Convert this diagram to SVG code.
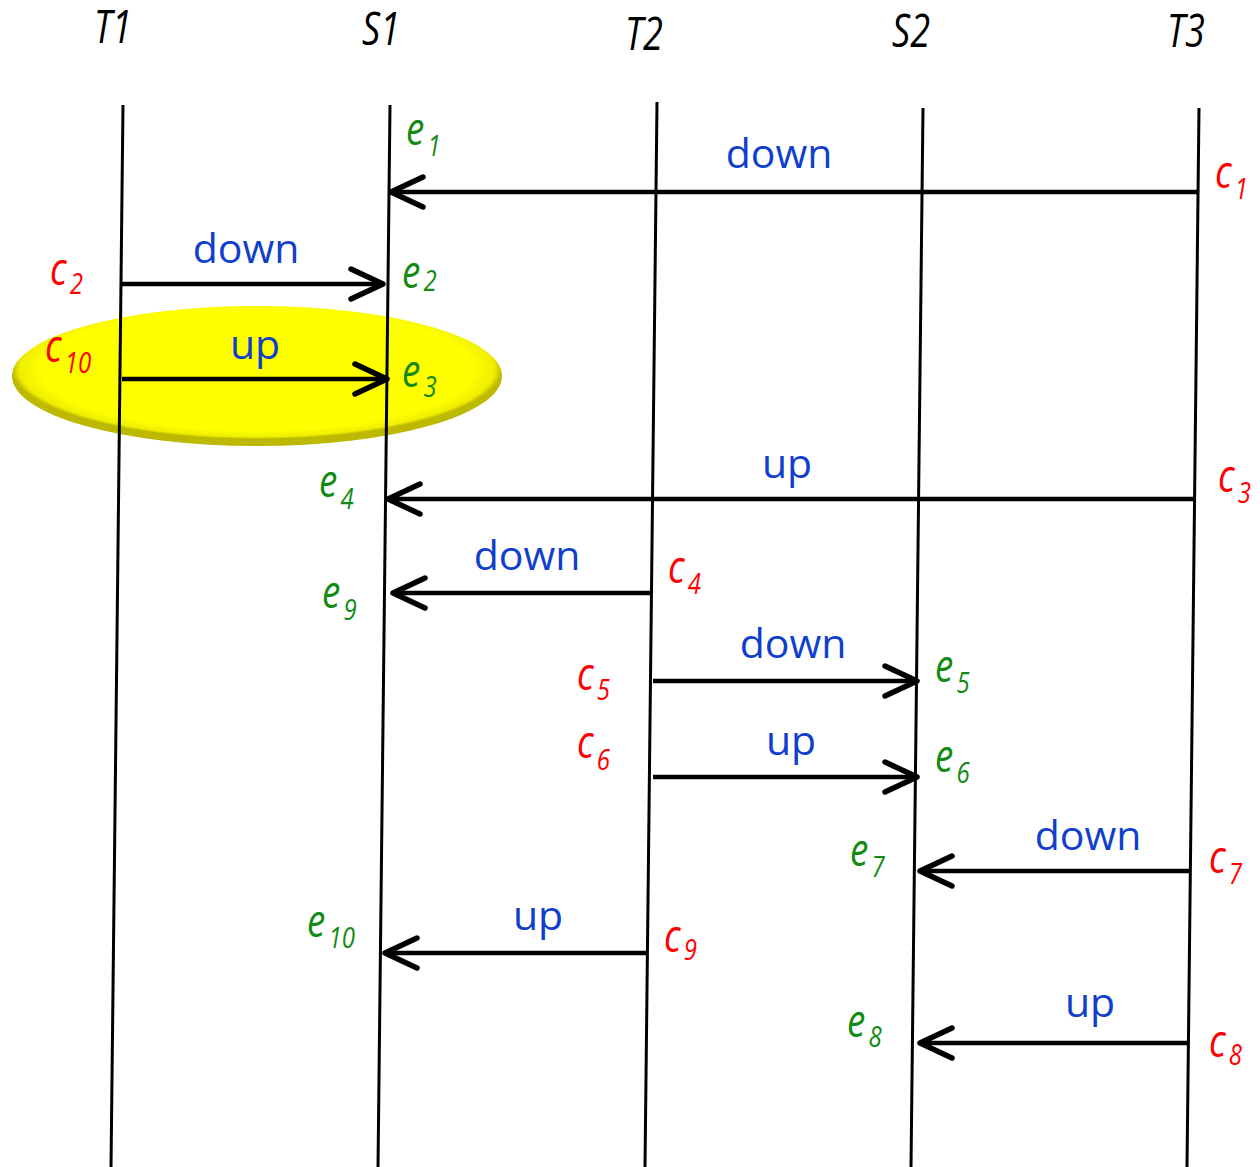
<svg xmlns="http://www.w3.org/2000/svg" width="1260" height="1167" viewBox="0 0 1260 1167">
<style>
.lane{stroke:#000;stroke-width:3;fill:none}
.msg{stroke:#000;stroke-width:4.5;fill:none;marker-end:url(#ah)}
.hdr{font-family:"Open Sans","Liberation Sans",sans-serif;font-style:italic;font-size:45px;fill:#000;text-anchor:middle}
.act{font-family:"Open Sans","Liberation Sans",sans-serif;font-size:41px;fill:#0F3FCC;text-anchor:middle}
.lbl{font-family:"Open Sans","Liberation Sans",sans-serif;font-style:italic;font-size:46px}
.e{fill:#138A13}
.c{fill:#FF0000}
.sub{font-size:30px}
</style>
<defs>
<radialGradient id="yel" cx="50%" cy="45%" r="50%">
<stop offset="0.88" stop-color="#FFFF00"/>
<stop offset="0.97" stop-color="#F0EE00"/>
<stop offset="1" stop-color="#BDB900"/>
</radialGradient>
<marker id="ah" viewBox="-40 -22 46 44" refX="0" refY="0" markerWidth="46" markerHeight="44" orient="auto" markerUnits="userSpaceOnUse">
<path d="M-32,-15 L0,0 L-32,15" fill="none" stroke="#000" stroke-width="5.5" stroke-linecap="round" stroke-linejoin="round"/>
</marker>
</defs>

<g id="highlight">
<ellipse cx="257" cy="376" rx="245" ry="70" fill="url(#yel)"/>
</g>

<g id="T1"><line class="lane" x1="123" y1="105" x2="111" y2="1167"/><text class="hdr" transform="translate(113,43) scale(0.8,1)">T1</text></g>
<g id="S1"><line class="lane" x1="390" y1="105" x2="378" y2="1167"/><text class="hdr" transform="translate(381,45) scale(0.8,1)">S1</text></g>
<g id="T2"><line class="lane" x1="657" y1="102" x2="645" y2="1167"/><text class="hdr" transform="translate(644,50) scale(0.8,1)">T2</text></g>
<g id="S2"><line class="lane" x1="923" y1="108" x2="911" y2="1167"/><text class="hdr" transform="translate(911,47) scale(0.8,1)">S2</text></g>
<g id="T3"><line class="lane" x1="1199" y1="108" x2="1187" y2="1167"/><text class="hdr" transform="translate(1186,47) scale(0.8,1)">T3</text></g>

<g id="connectors">
<line class="msg" x1="1198" y1="192" x2="391" y2="192"/>
<line class="msg" x1="122" y1="284" x2="383" y2="284"/>
<line class="msg" x1="122" y1="379" x2="387" y2="379"/>
<line class="msg" x1="1194" y1="499" x2="388" y2="499"/>
<line class="msg" x1="652" y1="593" x2="393" y2="593"/>
<line class="msg" x1="653" y1="681" x2="917" y2="681"/>
<line class="msg" x1="653" y1="777" x2="917" y2="777"/>
<line class="msg" x1="1191" y1="871" x2="920" y2="871"/>
<line class="msg" x1="646" y1="953" x2="385" y2="953"/>
<line class="msg" x1="1188" y1="1043" x2="920" y2="1043"/>
</g>

<g id="actions">
<text class="act" x="779" y="168">down</text>
<text class="act" x="246" y="263">down</text>
<text class="act" x="255" y="359">up</text>
<text class="act" x="787" y="478">up</text>
<text class="act" x="527" y="570">down</text>
<text class="act" x="793" y="658">down</text>
<text class="act" x="791" y="755">up</text>
<text class="act" x="1088" y="850">down</text>
<text class="act" x="538" y="930">up</text>
<text class="act" x="1090" y="1017">up</text>
</g>

<g id="labels">
<text class="lbl e" transform="translate(406,145) scale(0.8,1)">e<tspan class="sub" dx="4" dy="11">1</tspan></text>
<text class="lbl c" transform="translate(1215,188) scale(0.8,1)">c<tspan class="sub" dx="4" dy="11">1</tspan></text>
<text class="lbl c" transform="translate(50,285) scale(0.8,1)">c<tspan class="sub" dx="4" dy="9">2</tspan></text>
<text class="lbl e" transform="translate(402,288) scale(0.8,1)">e<tspan class="sub" dx="4" dy="3">2</tspan></text>
<text class="lbl c" transform="translate(45,362) scale(0.8,1)">c<tspan class="sub" dx="4" dy="11">10</tspan></text>
<text class="lbl e" transform="translate(402,387) scale(0.8,1)">e<tspan class="sub" dx="4" dy="10">3</tspan></text>
<text class="lbl e" transform="translate(319,497) scale(0.8,1)">e<tspan class="sub" dx="4" dy="12">4</tspan></text>
<text class="lbl c" transform="translate(1218,492) scale(0.8,1)">c<tspan class="sub" dx="4" dy="11">3</tspan></text>
<text class="lbl e" transform="translate(322,608) scale(0.8,1)">e<tspan class="sub" dx="4" dy="12">9</tspan></text>
<text class="lbl c" transform="translate(668,583) scale(0.8,1)">c<tspan class="sub" dx="4" dy="11">4</tspan></text>
<text class="lbl c" transform="translate(577,690) scale(0.8,1)">c<tspan class="sub" dx="4" dy="10">5</tspan></text>
<text class="lbl e" transform="translate(935,682) scale(0.8,1)">e<tspan class="sub" dx="4" dy="11">5</tspan></text>
<text class="lbl c" transform="translate(577,758) scale(0.8,1)">c<tspan class="sub" dx="4" dy="12">6</tspan></text>
<text class="lbl e" transform="translate(935,772) scale(0.8,1)">e<tspan class="sub" dx="4" dy="11">6</tspan></text>
<text class="lbl e" transform="translate(850,866) scale(0.8,1)">e<tspan class="sub" dx="4" dy="11">7</tspan></text>
<text class="lbl c" transform="translate(1209,873) scale(0.8,1)">c<tspan class="sub" dx="4" dy="11">7</tspan></text>
<text class="lbl e" transform="translate(307,937) scale(0.8,1)">e<tspan class="sub" dx="4" dy="11">10</tspan></text>
<text class="lbl c" transform="translate(664,952) scale(0.8,1)">c<tspan class="sub" dx="4" dy="8">9</tspan></text>
<text class="lbl e" transform="translate(847,1037) scale(0.8,1)">e<tspan class="sub" dx="4" dy="10">8</tspan></text>
<text class="lbl c" transform="translate(1209,1057) scale(0.8,1)">c<tspan class="sub" dx="4" dy="8">8</tspan></text>
</g>
</svg>
